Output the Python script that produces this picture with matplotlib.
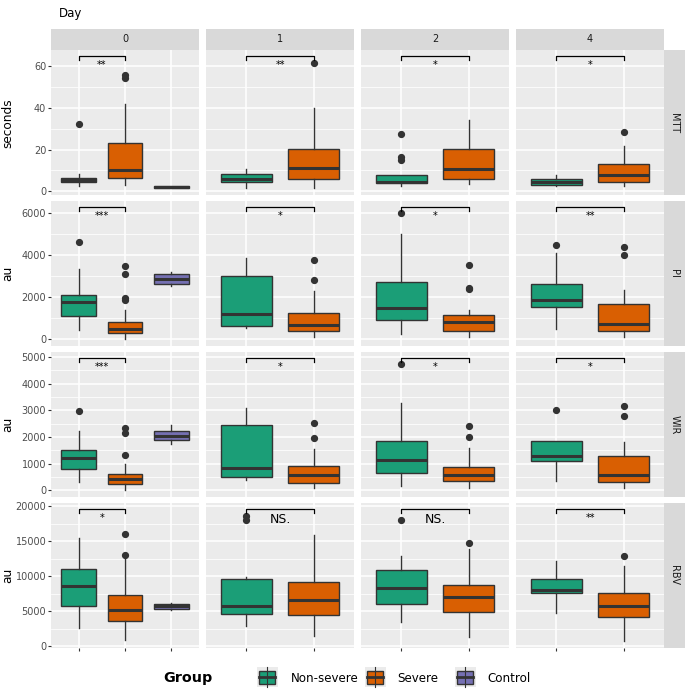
import matplotlib
matplotlib.use("Agg")
import matplotlib.pyplot as plt
from matplotlib.patches import Rectangle
from matplotlib.ticker import MultipleLocator

plt.rcParams['font.family'] = ['DejaVu Sans']

days = [0, 1, 2, 4]
groups = ["Non-severe", "Severe", "Control"]
group_colors = ["#1B9E77", "#D95F02", "#7570B3"]
measures = ["MTT", "PI", "WIR", "RBV"]
y_titles = ["seconds", "au", "au", "au"]

# box order in every row: day0 NS, S, C | day1 NS, S | day2 NS, S | day4 NS, S
box_day = [0, 0, 0, 1, 1, 2, 2, 4, 4]
box_group = [0, 1, 2, 0, 1, 0, 1, 0, 1]

mtt_low = [2.5, 3.3, 1.7, 1.8, 1.8, 2.4, 3.5, 2.7, 2.4]
mtt_q1 = [4.5, 6.5, 1.8, 4.3, 6.1, 3.8, 5.9, 3.0, 4.5]
mtt_med = [5.5, 10.2, 2.1, 5.7, 11.3, 4.5, 10.8, 4.5, 7.8]
mtt_q3 = [6.5, 23.3, 2.4, 8.3, 20.1, 7.8, 20.4, 5.9, 13.2]
mtt_high = [8.1, 41.6, 2.6, 10.5, 39.9, 7.8, 34.0, 7.7, 21.7]
mtt_out = [[32], [55.7, 54.2], [], [], [61.4], [27.6, 16.4, 15.2], [], [], [28.4]]

pi_low = [428, 32, 2540, 540, 111, 254, 127, 508, 127]
pi_q1 = [1127, 317, 2603, 651, 381, 936, 381, 1539, 413]
pi_med = [1762, 492, 2857, 1206, 698, 1476, 809, 1857, 746]
pi_q3 = [2111, 825, 3079, 2984, 1270, 2730, 1143, 2603, 1682]
pi_high = [3333, 1412, 3206, 3841, 2301, 4983, 1381, 4110, 2333]
pi_out = [[4603], [3476, 3095, 1968, 1880], [], [], [3745, 2809], [5983],
          [3507, 2444, 2370], [4491], [4380, 3999]]

wir_low = [313, 25, 1742, 401, 88, 150, 88, 363, 88]
wir_q1 = [789, 238, 1867, 501, 288, 639, 338, 1115, 301]
wir_med = [1203, 426, 2030, 840, 589, 1153, 576, 1291, 576]
wir_q3 = [1491, 614, 2205, 2443, 902, 1829, 877, 1829, 1291]
wir_high = [2230, 990, 2431, 3082, 1554, 3283, 1591, 1840, 1792]
wir_out = [[2982], [2320, 2130, 1316], [], [], [2506, 1967], [4724],
           [2418, 1992], [2995], [3170, 2782]]

rbv_low = [2625, 811, 5155, 2864, 1432, 3484, 1336, 4773, 764]
rbv_q1 = [5728, 3580, 5346, 4534, 4391, 5966, 4916, 7541, 4153]
rbv_med = [8591, 5155, 5680, 5728, 6635, 8353, 7016, 8066, 5775]
rbv_q3 = [11073, 7255, 6062, 9594, 9164, 10835, 8687, 9594, 7541]
rbv_high = [15417, 12553, 6110, 9880, 15894, 12887, 13889, 12123, 11503]
rbv_out = [[], [16085, 13030], [], [18600, 18000], [], [18090], [14749], [], [12887]]

# significance (Non-severe vs Severe) per day
mtt_sig = ["**", "**", "*", "*"]
pi_sig = ["***", "*", "*", "**"]
wir_sig = ["***", "*", "*", "*"]
rbv_sig = ["*", "NS.", "NS.", "**"]
bracket_y = [64.4, 6269, 4949, 19569]

rows = [
    (mtt_low, mtt_q1, mtt_med, mtt_q3, mtt_high, mtt_out, mtt_sig),
    (pi_low, pi_q1, pi_med, pi_q3, pi_high, pi_out, pi_sig),
    (wir_low, wir_q1, wir_med, wir_q3, wir_high, wir_out, wir_sig),
    (rbv_low, rbv_q1, rbv_med, rbv_q3, rbv_high, rbv_out, rbv_sig),
]
row_ylim = [(-1.9, 67.5), (-330, 6570), (-260, 5190), (-300, 20500)]
row_major = [20, 2000, 1000, 5000]

W, H = 685, 689
fig = plt.figure(figsize=(W / 100, H / 100), dpi=100)

col_left = [51, 206, 361, 516]
panel_w = 148
row_top = [50, 200.9, 351.8, 502.7]
panel_h = 145.4
dark = "#333333"


def px_axes(x, y, w, h):
    return fig.add_axes([x / W, 1 - (y + h) / H, w / W, h / H])


for r, (low, q1, med, q3, high, out, sig) in enumerate(rows):
    for c, day in enumerate(days):
        ax = px_axes(col_left[c], row_top[r], panel_w, panel_h)
        ax.set_facecolor("#EBEBEB")
        for s in ax.spines.values():
            s.set_visible(False)

        idx = [i for i in range(len(box_day)) if box_day[i] == day]
        n = len(idx)
        stats = []
        for i in idx:
            stats.append({"whislo": low[i], "q1": q1[i], "med": med[i],
                          "q3": q3[i], "whishi": high[i], "fliers": out[i]})
        bp = ax.bxp(stats, positions=list(range(1, n + 1)), widths=0.75,
                    patch_artist=True, showcaps=False,
                    boxprops=dict(edgecolor=dark, linewidth=1.0),
                    medianprops=dict(color=dark, linewidth=2.2, solid_capstyle="butt"),
                    whiskerprops=dict(color=dark, linewidth=1.0),
                    flierprops=dict(marker="o", markerfacecolor=dark,
                                    markeredgecolor=dark, markersize=4.2))
        for k, i in enumerate(idx):
            bp["boxes"][k].set_facecolor(group_colors[box_group[i]])

        # significance bracket
        y0, y1 = row_ylim[r]
        by = bracket_y[r]
        tip = 0.025 * (y1 - y0)
        ax.plot([1, 1, 2, 2], [by - tip, by, by, by - tip], color="black", lw=0.9)
        lab = sig[c]
        ax.annotate(lab, (1.5, by), xytext=(0, -2.6), textcoords="offset points",
                    ha="center", va="top", fontsize=9 if lab == "NS." else 7,
                    color="black")

        ax.set_xlim(0.4, n + 0.6)
        ax.set_ylim(y0, y1)
        ax.set_xticks(range(1, n + 1))
        ax.set_xticklabels([])
        ax.yaxis.set_major_locator(MultipleLocator(row_major[r]))
        ax.yaxis.set_minor_locator(MultipleLocator(row_major[r] / 2))
        ax.set_axisbelow(True)
        ax.grid(which="major", color="white", lw=1.1)
        ax.grid(which="minor", axis="y", color="white", lw=0.55)
        ax.tick_params(which="minor", length=0)
        ax.tick_params(axis="both", which="major", length=2.2, width=0.8,
                       color=dark, labelsize=7, labelcolor="#4D4D4D", pad=1.2)
        if c != 0:
            ax.tick_params(axis="y", which="major", length=0, labelleft=False)
        if r != 3:
            ax.tick_params(axis="x", which="major", length=0)

        if r == 0:
            sax = px_axes(col_left[c], 29, panel_w, 21)
            sax.set_facecolor("#D9D9D9")
            sax.set_xticks([])
            sax.set_yticks([])
            for s in sax.spines.values():
                s.set_visible(False)
            sax.text(0.5, 0.5, str(day), ha="center", va="center",
                     fontsize=7, color="#1A1A1A", transform=sax.transAxes)
        if c == 3:
            sax = px_axes(664, row_top[r], 21, panel_h)
            sax.set_facecolor("#D9D9D9")
            sax.set_xticks([])
            sax.set_yticks([])
            for s in sax.spines.values():
                s.set_visible(False)
            sax.text(0.5, 0.5, measures[r], ha="center", va="center", rotation=-90,
                     fontsize=7, color="#1A1A1A", transform=sax.transAxes)

# overlay in pixel coordinates for titles and legend
ov = fig.add_axes([0, 0, 1, 1])
ov.set_xlim(0, W)
ov.set_ylim(H, 0)
ov.axis("off")
ov.patch.set_alpha(0)

ov.text(71, 14, "Day", ha="center", va="center", fontsize=8.5, color="black")
for r in range(4):
    ov.text(7.5, row_top[r] + panel_h / 2, y_titles[r], ha="center", va="center",
            rotation=90, fontsize=8.7, color="black")

ov.text(163, 678, "Group", ha="left", va="center", fontsize=10.3,
        fontweight="bold", color="black")
key_x = [257, 365, 455]
label_x = [291, 397.5, 487.5]
for g in range(3):
    kx = key_x[g]
    ov.add_patch(Rectangle((kx, 667.3), 20.7, 20, facecolor="#EBEBEB", edgecolor="none"))
    ov.plot([kx + 10.35, kx + 10.35], [667.3, 687.3], color=dark, lw=0.8)
    ov.add_patch(Rectangle((kx + 2.3, 670.7), 16, 13.3, facecolor=group_colors[g],
                           edgecolor=dark, lw=1.0))
    ov.plot([kx + 2.3, kx + 18.3], [677.3, 677.3], color=dark, lw=2.0)
    ov.text(label_x[g], 678, groups[g], ha="left", va="center", fontsize=8.6,
            color="black")

fig.savefig("out.png", dpi=100)
